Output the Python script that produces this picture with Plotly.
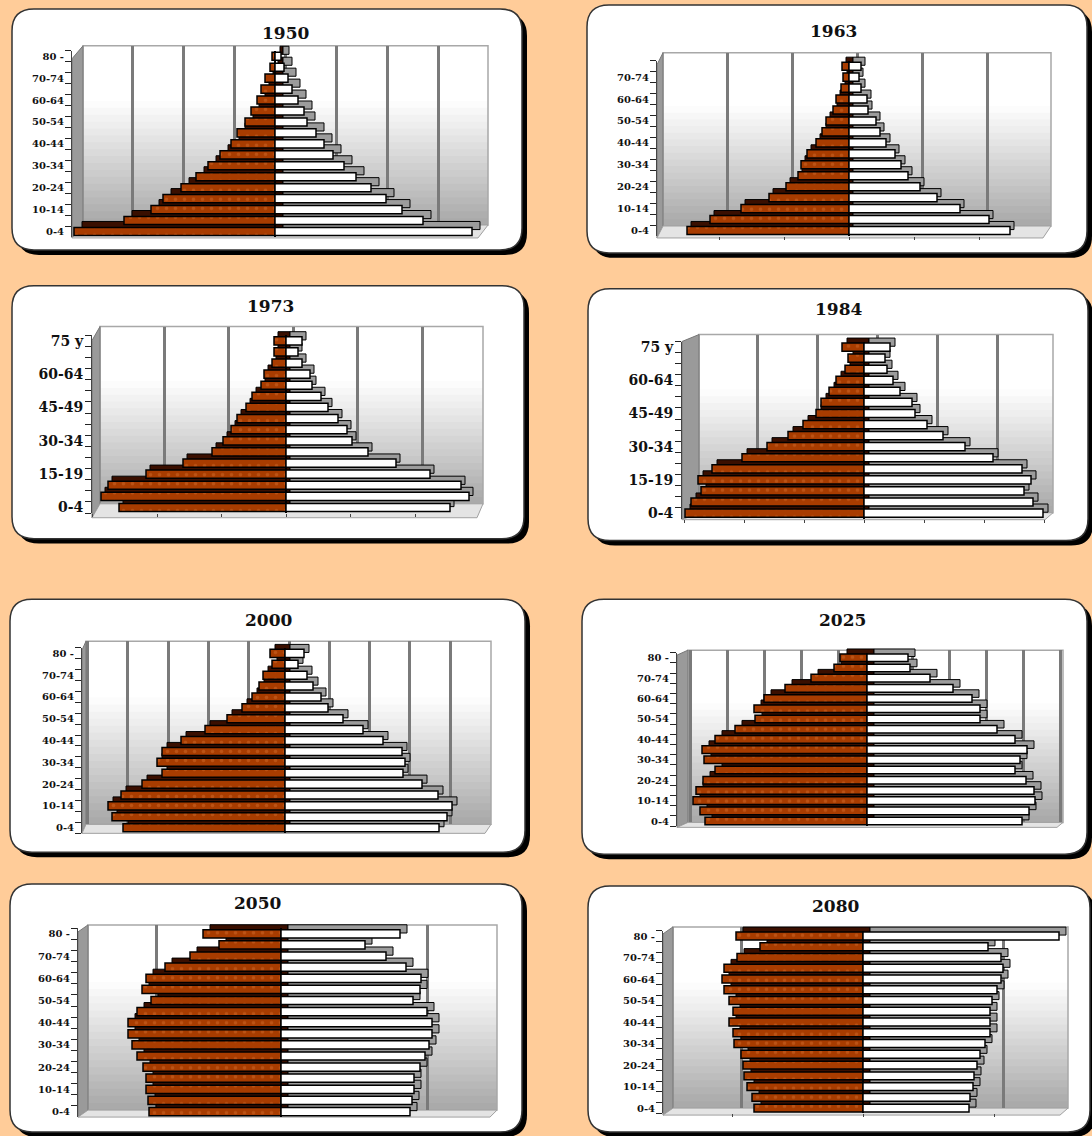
import plotly.graph_objects as go

W, H = 1092, 1136

left_1950 = [201,151,124,112,94,79,67,55,44,38,30,24,18,14,10,5,3]
right_1950 = [197,148,127,111,96,81,69,58,49,41,32,29,23,17,13,9,6]
left_1963 = [162,139,108,80,63,51,48,42,33,27,23,16,13,8,6,7]
right_1963 = [161,140,111,88,71,59,52,46,37,31,27,19,18,12,10,12]
left_1973 = [167,185,178,140,103,74,63,55,49,40,34,25,22,14,12,12]
right_1973 = [164,183,175,144,110,82,66,61,52,42,35,26,24,16,12,16]
left_1984 = [179,173,163,166,152,122,97,76,61,48,43,35,28,19,16,22]
right_1984 = [179,169,160,167,158,129,101,79,63,51,48,36,29,23,21,26]
left_2000 = [162,173,177,164,143,123,128,123,104,80,58,43,33,26,22,13,15]
right_2000 = [154,162,167,153,137,118,120,117,98,78,58,43,36,28,22,13,19]
left_2025 = [162,167,174,171,164,152,163,165,152,132,112,113,103,82,56,33,27]
right_2025 = [155,162,168,167,159,148,153,160,148,130,113,113,105,86,63,43,41]
left_2050 = [132,133,135,135,138,144,149,153,153,144,130,139,135,116,91,62,78]
right_2050 = [129,131,133,133,139,144,148,151,151,146,132,139,140,125,105,84,119]
left_2080 = [109,111,116,119,120,122,129,130,134,130,134,139,141,139,126,103,127]
right_2080 = [106,107,110,111,114,117,122,127,127,127,129,134,138,140,138,125,196]

ages_17 = ["0-4","5-9","10-14","15-19","20-24","25-29","30-34","35-39","40-44",
           "45-49","50-54","55-59","60-64","65-69","70-74","75-79","80 -"]
ages_16 = ["0-4","5-9","10-14","15-19","20-24","25-29","30-34","35-39","40-44",
           "45-49","50-54","55-59","60-64","65-69","70-74","75 y"]
ticks_every2 = ["0-4","","10-14","","20-24","","30-34","","40-44","","50-54","","60-64","","70-74","","80 -"]
ticks_1963 = ["0-4","","10-14","","20-24","","30-34","","40-44","","50-54","","60-64","","70-74",""]
ticks_every3 = ["0-4","","","15-19","","","30-34","","","45-49","","","60-64","","","75 y"]

titles = ["1950","1963","1973","1984","2000","2025","2050","2080"]
lefts = [left_1950,left_1963,left_1973,left_1984,left_2000,left_2025,left_2050,left_2080]
rights = [right_1950,right_1963,right_1973,right_1984,right_2000,right_2025,right_2050,right_2080]
ages = [ages_17,ages_16,ages_16,ages_16,ages_17,ages_17,ages_17,ages_17]
ticks = [ticks_every2,ticks_1963,ticks_every3,ticks_every3,ticks_every2,ticks_every2,ticks_every2,ticks_every2]

# layout geometry, in page pixels
panels = [
 dict(card=(12,6,522,248),   tx=285,ty=30, cx=275,x0=72, x1=478, yb=235,  yt=48,   fl=236, w=(83,488,43,223),   wc=285,grid=51,   fs=10, xt=False, d=(8,6)),
 dict(card=(587,2,1087,251), tx=833,ty=28, cx=849,x0=657,x1=1043,yb=234,  yt=58,   fl=236, w=(663,1051,50,224), wc=857,grid=65,   fs=10, xt=True,  d=(4,5)),
 dict(card=(12,284,524,538), tx=270,ty=304,cx=286,x0=92, x1=477, yb=512.3,yt=333.7,fl=517, w=(100,483,325,503), wc=293,grid=64.5, fs=14, xt=True,  d=(4,5)),
 dict(card=(588,287,1088,540),tx=838,ty=307,cx=864,x0=682,x1=1045,yb=517.9,yt=340.1,fl=519,w=(699,1053,333,512),wc=877,grid=60,   fs=14, xt=True,  d=(5,5)),
 dict(card=(10,599,525,853), tx=268,ty=620,cx=285,x0=82, x1=485, yb=833.8,yt=647.8,fl=834, w=(86,491,641,825),  wc=289,grid=40.3, fs=10, xt=False, d=(5,5)),
 dict(card=(582,599,1087,855),tx=842,ty=620,cx=867,x0=677,x1=1057,yb=826.8,yt=652.5,fl=828,w=(688,1063,650,823),wc=875,grid=37,   fs=10, xt=False, d=(7,5)),
 dict(card=(10,885,522,1134),tx=257,ty=904,cx=281,x0=78, x1=490, yb=1119, yt=929.4,fl=1119,w=(88,497,926,1112), wc=292,grid=135.5,fs=10, xt=False, d=(7,5)),
 dict(card=(588,887,1090,1134),tx=835,ty=907,cx=863,x0=663,x1=1060,yb=1115.4,yt=931.8,fl=1117,w=(673,1068,928,1110),wc=872,grid=131,fs=10, xt=True, d=(7,5)),
]

PEACH = "#FFCC99"
BROWN = "#A83C00"
DARK = "#3A0F00"
SIDE = "#9C9C9C"

def px(x): return x / W
def py(y): return 1 - y / H

def rounded(x0, y0, x1, y1, r):
    p = lambda x, y: f"{px(x)} {py(y)}"
    return (f"M {p(x0+r,y0)} L {p(x1-r,y0)} Q {p(x1,y0)} {p(x1,y0+r)} "
            f"L {p(x1,y1-r)} Q {p(x1,y1)} {p(x1-r,y1)} L {p(x0+r,y1)} "
            f"Q {p(x0,y1)} {p(x0,y1-r)} L {p(x0,y0+r)} Q {p(x0,y0)} {p(x0+r,y0)} Z")

def poly(points):
    return "M " + " L ".join(f"{px(x)} {py(y)}" for x, y in points) + " Z"

fig = go.Figure()
shapes, annots, axes = [], [], {}

def ax_name(k, letter):
    return f"{letter}axis{'' if k == 1 else k}"

def ref(k, letter):
    return f"{letter}{'' if k == 1 else k}"

for i, p in enumerate(panels):
    cx0, cy0, cx1, cy1 = p["card"]
    shapes.append(dict(type="path", path=rounded(cx0+5, cy0+5, cx1+5, cy1+5, 22), xref="paper", yref="paper",
                       fillcolor="#000000", line=dict(width=0), layer="below"))
    shapes.append(dict(type="path", path=rounded(cx0, cy0, cx1, cy1, 22), xref="paper", yref="paper",
                       fillcolor="#FFFFFF", line=dict(color="#333333", width=1.5), layer="below"))
    wx0, wx1, wt, wb = p["w"]
    # wall shading
    nb = 26
    for b in range(nb):
        t = b / (nb - 1)
        v = 255 if t < 0.3 else int(255 - (t - 0.3) / 0.7 * 85)
        ya = wt + (wb - wt) * b / nb
        yc = min(wb, wt + (wb - wt) * (b + 1) / nb + 1)
        shapes.append(dict(type="rect", xref="paper", yref="paper", x0=px(wx0), x1=px(wx1), y0=py(yc), y1=py(ya),
                           fillcolor=f"rgb({v},{v},{v})", line=dict(width=0), layer="below"))
    shapes.append(dict(type="rect", xref="paper", yref="paper", x0=px(wx0), x1=px(wx1), y0=py(wb), y1=py(wt),
                       fillcolor="rgba(0,0,0,0)", line=dict(color="#A8A8A8", width=1.5), layer="below"))
    shapes.append(dict(type="path", xref="paper", yref="paper", layer="below",
                       path=poly([(p["x0"], p["fl"]), (wx0, wb), (wx0, wt), (p["x0"], wt + (p["fl"] - wb))]),
                       fillcolor="#9A9A9A", line=dict(color="#777777", width=1)))
    shapes.append(dict(type="path", xref="paper", yref="paper", layer="below",
                       path=poly([(p["x0"], p["fl"]), (p["x1"], p["fl"]), (wx1, wb), (wx0, wb)]),
                       fillcolor="#E4E4E4", line=dict(color="#A0A0A0", width=1)))
    annots.append(dict(text=f"<b>{titles[i]}</b>", xref="paper", yref="paper", x=px(p["tx"]), y=py(p["ty"]),
                       xanchor="center", yanchor="middle", showarrow=False,
                       font=dict(family="DejaVu Serif", size=17, color="#111111")))

    k_wall, k_depth, k_front = 3*i + 1, 3*i + 2, 3*i + 3
    n = len(ages[i])
    yr = [-0.5, n - 0.5]
    xr = [-(p["cx"] - p["x0"]), p["x1"] - p["cx"]]
    ydom = [py(p["yb"]), py(p["yt"])]

    # wall axes: grid only
    axes[ax_name(k_wall, "x")] = dict(domain=[px(wx0), px(wx1)], range=[wx0 - p["wc"], wx1 - p["wc"]], anchor=ref(k_wall, "y"),
                                      showgrid=True, gridcolor="#7A7A7A", gridwidth=2.5, tick0=0, dtick=p["grid"], zeroline=False,
                                      showticklabels=False, ticks="", showline=False)
    axes[ax_name(k_wall, "y")] = dict(domain=[py(wb), py(wt)], range=[0, 1], anchor=ref(k_wall, "x"),
                                      showgrid=False, zeroline=False, showticklabels=False, ticks="", showline=False)
    fig.add_trace(go.Scatter(x=[None], y=[None], mode="markers", showlegend=False, hoverinfo="skip",
                             xaxis=ref(k_wall, "x"), yaxis=ref(k_wall, "y")))

    # depth axes: same scale as the front, shifted back
    dx, dy = p["d"]
    axes[ax_name(k_depth, "x")] = dict(domain=[px(p["x0"] + dx), px(p["x1"] + dx)], range=xr, anchor=ref(k_depth, "y"),
                                       visible=False, fixedrange=True)
    axes[ax_name(k_depth, "y")] = dict(domain=[py(p["yb"] - dy), py(p["yt"] - dy)], range=yr, anchor=ref(k_depth, "x"),
                                       type="category", categoryorder="array", categoryarray=ages[i], visible=False)
    fig.add_trace(go.Bar(x=[-v for v in lefts[i]], y=ages[i], orientation="h", width=0.74, showlegend=False,
                         marker=dict(color=DARK, line=dict(color="#000000", width=1)),
                         xaxis=ref(k_depth, "x"), yaxis=ref(k_depth, "y")))
    fig.add_trace(go.Bar(x=rights[i], y=ages[i], orientation="h", width=0.74, showlegend=False,
                         marker=dict(color=SIDE, line=dict(color="#000000", width=1)),
                         xaxis=ref(k_depth, "x"), yaxis=ref(k_depth, "y")))

    # front axes
    axes[ax_name(k_front, "x")] = dict(domain=[px(p["x0"]), px(p["x1"])], range=xr, anchor=ref(k_front, "y"),
                                       showgrid=False, tick0=0, dtick=p["grid"], showticklabels=False,
                                       ticks="outside" if p["xt"] else "", ticklen=3, tickcolor="#444444",
                                       zeroline=True, zerolinecolor="#000000", zerolinewidth=2, showline=False)
    axes[ax_name(k_front, "y")] = dict(domain=ydom, range=yr, anchor=ref(k_front, "x"), type="category",
                                       categoryorder="array", categoryarray=ages[i], tickmode="array",
                                       tickvals=ages[i], ticktext=ticks[i], tickson="boundaries",
                                       ticks="outside", ticklen=6, tickwidth=1.2, tickcolor="#222222",
                                       showline=True, linecolor="#444444", linewidth=1, showgrid=False, zeroline=False,
                                       ticklabelstandoff=5,
                                       tickfont=dict(family="DejaVu Serif", size=p["fs"], color="#111111", weight=700))
    fig.add_trace(go.Bar(x=[-v for v in lefts[i]], y=ages[i], orientation="h", width=0.74, showlegend=False,
                         marker=dict(color=BROWN, line=dict(color="#000000", width=1.5),
                                     pattern=dict(shape=".", fgcolor="#D0692A", bgcolor=BROWN, size=9, solidity=0.12)),
                         xaxis=ref(k_front, "x"), yaxis=ref(k_front, "y")))
    fig.add_trace(go.Bar(x=rights[i], y=ages[i], orientation="h", width=0.74, showlegend=False,
                         marker=dict(color="#FFFFFF", line=dict(color="#000000", width=1.5)),
                         xaxis=ref(k_front, "x"), yaxis=ref(k_front, "y")))

# white patch beside the 75-79 bar of the 2080 panel
shapes.append(dict(type="rect", xref="paper", yref="paper", x0=px(741), x1=px(760), y0=py(952), y1=py(943),
                   fillcolor="#FFFFFF", line=dict(width=0), layer="below"))

fig.update_layout(width=W, height=H, margin=dict(l=0, r=0, t=0, b=0), paper_bgcolor=PEACH,
                  plot_bgcolor="rgba(0,0,0,0)", barmode="overlay", showlegend=False,
                  shapes=shapes, annotations=annots, **axes)
fig.write_html("out.html", post_script="document.body.style.margin='0';", config={"displayModeBar": False})
